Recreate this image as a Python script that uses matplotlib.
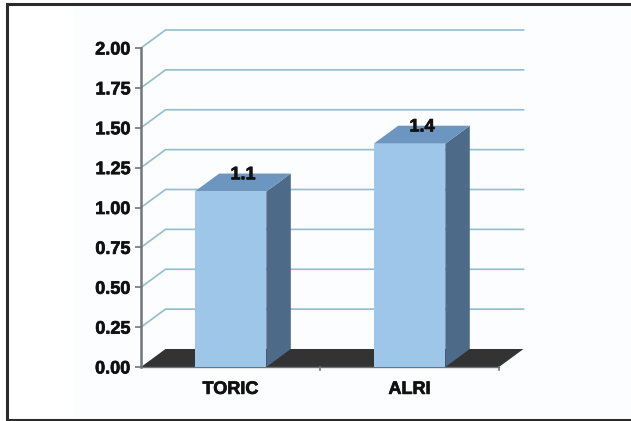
import matplotlib
matplotlib.use("Agg")
import matplotlib.pyplot as plt
import matplotlib.patheffects as pe
from matplotlib.patches import Polygon, Rectangle

plt.rcParams['font.family'] = ['Liberation Sans', 'DejaVu Sans']

categories = ['TORIC', 'ALRI']
values = [1.1, 1.4]
value_labels = ['1.1', '1.4']
y_ticks = [0.0, 0.25, 0.5, 0.75, 1.0, 1.25, 1.5, 1.75, 2.0]

W, H = 631, 421
fig = plt.figure(figsize=(W / 100, H / 100), dpi=100, facecolor='white')

# page backdrop and outer frame, in pixel coordinates
bg = fig.add_axes([0, 0, 1, 1])
bg.set_xlim(0, W)
bg.set_ylim(H, 0)
bg.axis('off')
bg.add_patch(Rectangle((73, 7), W - 73, 411, fc='#fcfdfe', ec='none'))
bg.plot([W, 7, 7, W], [4, 4, 419.5, 419.5], color='#2b2b2b', lw=2.2,
        solid_joinstyle='miter')

# plot area: 141..499 px wide, 48..367 px tall
ax = fig.add_axes([141 / W, 1 - 367 / H, 358 / W, 319 / H])
ax.set_xlim(-0.5, 1.5)
ax.set_ylim(0, 2)
ax.patch.set_alpha(0)
for side in ['top', 'right', 'left', 'bottom']:
    ax.spines[side].set_visible(False)

# depth of the 3D box
dx = 24.5 / 179
dy = 18 / 159.5
bar_w = 0.4

GRID = '#94bccb'
FLOOR = '#333333'
AXIS = '#6f7578'
FRONT = '#9dc6e8'
TOP = '#6c96bf'
SIDE = '#4d6a88'
INK = '#111111'
heavy = [pe.withStroke(linewidth=0.5, foreground=INK)]

# floor
ax.add_patch(Polygon([(-0.5, 0), (1.5, 0), (1.5 + dx, dy), (-0.5 + dx, dy)],
                     fc=FLOOR, ec='none', clip_on=False, zorder=1))

# back wall gridlines with the diagonal run back from the axis
for t in y_ticks[1:]:
    ax.plot([-0.5, -0.5 + dx, 1.5 + dx], [t, t + dy, t + dy], color=GRID, lw=1.2,
            clip_on=False, zorder=1, solid_joinstyle='miter')

# bars
for i, v in enumerate(values):
    l, r = i - bar_w / 2, i + bar_w / 2
    ax.add_patch(Polygon([(r, 0), (r + dx, dy), (r + dx, v + dy), (r, v)],
                         fc=SIDE, ec='none', clip_on=False, zorder=3))
    ax.add_patch(Polygon([(l, v), (r, v), (r + dx, v + dy), (l + dx, v + dy)],
                         fc=TOP, ec='none', clip_on=False, zorder=3))
    ax.bar(i, v, width=bar_w, color=FRONT, zorder=4)
    ax.text(i + 0.07, v + 0.105, value_labels[i], ha='center', va='center',
            fontsize=13, fontweight='bold', color=INK, zorder=5, clip_on=False,
            path_effects=heavy)

ax.set_yticks(y_ticks)
ax.set_yticklabels(['%.2f' % t for t in y_ticks], fontsize=13, fontweight='bold', color=INK,
                   path_effects=heavy)
ax.set_xticks([0, 1])
ax.set_xticklabels(categories, fontsize=13, fontweight='bold', color=INK, path_effects=heavy)
ax.tick_params(axis='y', length=4, width=1.2, color=AXIS, pad=3.5)
ax.tick_params(axis='x', length=0, pad=10)

# axis lines and the x tick marks between categories
ax.plot([-0.5, -0.5], [0, 2], color=AXIS, lw=1.8, clip_on=False, zorder=2)
ax.plot([-0.5, 1.5], [0, 0], color=AXIS, lw=1.0, clip_on=False, zorder=2)
for x in [0.5, 1.5]:
    ax.plot([x, x], [0, -0.018], color=AXIS, lw=1.2, clip_on=False, zorder=2)

fig.savefig('out.png', dpi=100)
